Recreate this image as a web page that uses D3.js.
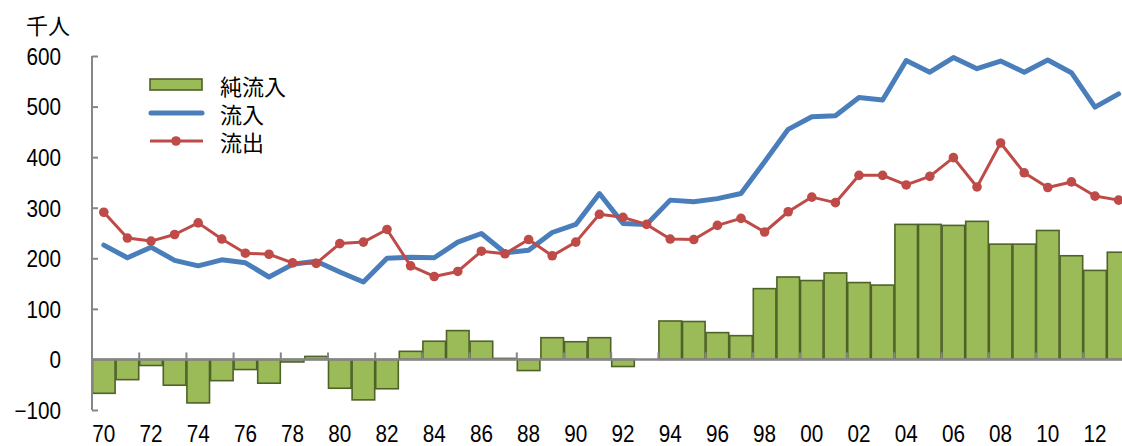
<!DOCTYPE html>
<html>
<head>
<meta charset="utf-8">
<script src="https://cdn.jsdelivr.net/npm/d3@7"></script>
<style>
  html, body { margin: 0; padding: 0; background: #fff; }
  svg { display: block; }
  .num { font-family: "Liberation Sans", Arial, sans-serif; font-size: 23px; }
  .cjk { font-family: "Noto Sans CJK JP", sans-serif; }
</style>
</head>
<body>
<svg id="chart" width="1122" height="446"></svg>
<script>
// Years 1970–2013
const years = d3.range(1970, 2014);

// Net inflow (thousand persons)
const netInflow = [-67, -40, -12, -51, -86, -42, -20, -47, -5, 6,
  -57, -80, -58, 16, 36, 57, 36, 2, -22, 43,
  35, 43, -14, 0, 76, 75, 53, 47, 140, 163,
  156, 171, 152, 147, 267, 267, 265, 273, 228, 228,
  255, 205, 176, 212];

// Inflow
const inflow = [226, 201, 222, 196, 185, 197, 191, 163, 188, 194,
  173, 153, 200, 202, 201, 232, 249, 211, 216, 251,
  267, 328, 269, 267, 315, 312, 318, 328, 391, 455,
  480, 482, 518, 513, 591, 568, 597, 575, 590, 568,
  592, 567, 499, 525];

// Outflow
const outflow = [291, 240, 234, 247, 270, 238, 210, 208, 191, 190,
  229, 232, 257, 185, 164, 174, 214, 209, 237, 205,
  232, 287, 281, 267, 238, 237, 265, 279, 252, 292,
  321, 310, 364, 364, 345, 362, 399, 341, 428, 369,
  340, 351, 323, 315];

const yTicks = [-100, 0, 100, 200, 300, 400, 500, 600];
const xTickYears = years.filter(y => y % 2 === 0);
const yUnit = "千人";
const legendLabels = ["純流入", "流入", "流出"];

const colors = { bar: "#9bbb59", barStroke: "#4f6228", inflow: "#4a7ebb", outflow: "#be4b48", axis: "#868686" };

const svg = d3.select("#chart");
const plotLeft = 92, plotRight = 1130.4, plotTop = 56, plotBottom = 410;
const narrow = 0.9; // horizontal squeeze for the numeric labels

const x = d3.scaleBand().domain(years).range([plotLeft, plotRight]).padding(0);
const y = d3.scaleLinear().domain([-100, 600]).range([plotBottom, plotTop]);

// Bars
svg.append("g").selectAll("rect")
  .data(years.map((yr, i) => ({ yr, v: netInflow[i] })))
  .join("rect")
  .attr("x", d => x(d.yr) + 0.5)
  .attr("width", x.bandwidth() - 1)
  .attr("y", d => y(Math.max(0, d.v)))
  .attr("height", d => Math.abs(y(d.v) - y(0)))
  .attr("fill", colors.bar)
  .attr("stroke", colors.barStroke)
  .attr("stroke-width", 1.6);

// Y axis (ticks point into the plot)
const yAxis = d3.axisLeft(y).tickValues(yTicks).tickSize(-6).tickFormat(d3.format("d"));
const gy = svg.append("g").attr("transform", `translate(${plotLeft},0)`).call(yAxis);
gy.attr("font-size", null).attr("font-family", null);
gy.select(".domain").attr("stroke", colors.axis).attr("stroke-width", 2).attr("d", `M0,${y(600)}V${y(-100)}`);
gy.selectAll(".tick line").attr("stroke", colors.axis).attr("stroke-width", 2);
gy.selectAll(".tick text")
  .attr("class", "num")
  .attr("x", 0)
  .attr("dy", null)
  .attr("dominant-baseline", "central")
  .attr("fill", "#000")
  .attr("transform", `translate(-31,0.5) scale(${narrow},1)`);

// X axis along zero: ticks at every other category boundary, labels centred on the year
const gx = svg.append("g");
gx.append("line")
  .attr("x1", plotLeft).attr("x2", plotRight)
  .attr("y1", y(0)).attr("y2", y(0))
  .attr("stroke", colors.axis).attr("stroke-width", 2.5);
gx.selectAll("line.tk")
  .data(xTickYears)
  .join("line")
  .attr("class", "tk")
  .attr("x1", d => x(d)).attr("x2", d => x(d))
  .attr("y1", y(0)).attr("y2", y(0) - 7)
  .attr("stroke", colors.axis).attr("stroke-width", 2);
gx.selectAll("text")
  .data(xTickYears)
  .join("text")
  .attr("class", "num")
  .attr("text-anchor", "middle")
  .attr("transform", d => `translate(${x(d) + x.bandwidth() / 2},442) scale(${narrow},1)`)
  .text(d => String(d % 100).padStart(2, "0"));

// Lines
const cx = yr => x(yr) + x.bandwidth() / 2;
const line = d3.line().x(d => cx(d.yr)).y(d => y(d.v));

svg.append("path")
  .datum(years.map((yr, i) => ({ yr, v: inflow[i] })))
  .attr("d", line)
  .attr("fill", "none")
  .attr("stroke", colors.inflow)
  .attr("stroke-width", 5)
  .attr("stroke-linejoin", "round")
  .attr("stroke-linecap", "round");

const outData = years.map((yr, i) => ({ yr, v: outflow[i] }));
svg.append("path")
  .datum(outData)
  .attr("d", line)
  .attr("fill", "none")
  .attr("stroke", colors.outflow)
  .attr("stroke-width", 3)
  .attr("stroke-linejoin", "round");
svg.append("g").selectAll("circle")
  .data(outData)
  .join("circle")
  .attr("cx", d => cx(d.yr))
  .attr("cy", d => y(d.v))
  .attr("r", 4.8)
  .attr("fill", colors.outflow);

// Unit label
svg.append("text")
  .attr("class", "cjk")
  .attr("x", 26).attr("y", 34)
  .style("font-size", "22px")
  .text(yUnit);

// Legend
const lg = svg.append("g");
lg.append("rect")
  .attr("x", 150).attr("y", 79).attr("width", 52).attr("height", 11)
  .attr("fill", colors.bar).attr("stroke", colors.barStroke).attr("stroke-width", 1.6);
lg.append("line")
  .attr("x1", 151).attr("x2", 202).attr("y1", 113).attr("y2", 113)
  .attr("stroke", colors.inflow).attr("stroke-width", 5).attr("stroke-linecap", "round");
lg.append("line")
  .attr("x1", 150).attr("x2", 203).attr("y1", 141).attr("y2", 141)
  .attr("stroke", colors.outflow).attr("stroke-width", 3);
lg.append("circle").attr("cx", 176).attr("cy", 141).attr("r", 4.8).attr("fill", colors.outflow);
lg.selectAll("text")
  .data(legendLabels)
  .join("text")
  .attr("class", "cjk")
  .attr("x", 220)
  .attr("y", (d, i) => [85, 113, 141][i])
  .attr("dominant-baseline", "central")
  .style("font-size", "22px")
  .text(d => d);
</script>
</body>
</html>
